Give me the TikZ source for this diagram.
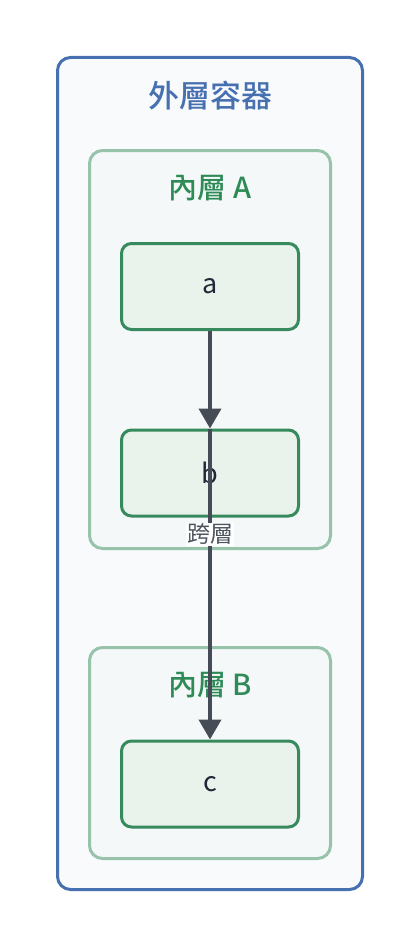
\documentclass[tikz,border=0pt]{standalone}
\usepackage{fontspec}
\setmainfont{Noto Sans CJK TC}[BoldFont={Noto Sans CJK TC Medium}]
\usepackage{tikz}
\usetikzlibrary{positioning,arrows.meta}

\definecolor{outerline}{HTML}{4670B0}
\definecolor{outerfill}{HTML}{F8FAFC}
\definecolor{innerline}{HTML}{96C3AA}
\definecolor{innerfill}{HTML}{F4F8F8}
\definecolor{innertext}{HTML}{2E8B57}
\definecolor{boxline}{HTML}{378A5E}
\definecolor{boxfill}{HTML}{E9F3EC}
\definecolor{boxtext}{HTML}{1F2937}
\definecolor{edgecol}{HTML}{454C56}

\begin{document}
\begin{tikzpicture}[x=1pt, y=-1pt, >={Triangle[length=20pt,width=22pt]},
    outerbox/.style={draw=outerline, fill=outerfill, line width=3pt, rounded corners=13pt,
        minimum width=305pt, minimum height=832pt, inner sep=0pt},
    innerbox/.style={draw=innerline, fill=innerfill, line width=3pt, rounded corners=13pt,
        minimum width=241pt, inner sep=0pt},
    leaf/.style={draw=boxline, fill=boxfill, line width=3pt, rounded corners=10pt,
        minimum width=177pt, minimum height=86pt, inner sep=0pt,
        text=boxtext, font=\fontsize{27}{32}\selectfont},
    outertitle/.style={text=outerline, font=\fontsize{31}{36}\selectfont\bfseries},
    innertitle/.style={text=innertext, font=\fontsize{29}{34}\selectfont\bfseries},
    link/.style={->, draw=edgecol, line width=4pt}]
    \useasboundingbox (0,0) rectangle (420,950);

    % outer container
    \node [outerbox] (outer) at (210,473.5) {};
    \node [outertitle] (outerlabel) at (210,96) {外層容器};

    % inner A
    \node [innerbox, minimum height=398pt] (innerA) at (210,349.5) {};
    \node [innertitle] (innerAlabel) at (210,188) {內層 A};
    \node [leaf] (a) at (210,286.5) {a};
    \node [leaf] (b) at (210,473) {b};

    % inner B
    \node [innerbox, minimum height=211pt] (innerB) at (210,753) {};
    \node [innertitle] (innerBlabel) at (210,685) {內層 B};
    \node [leaf] (c) at (210,784) {c};

    % edges
    \draw [link] (a.south) -- (b.north);
    \draw [link] (b.north) -- (c.north)
        node [pos=0.34, fill=white, inner sep=1pt, text=boxtext!80,
              font=\fontsize{23}{27}\selectfont] (crosslabel) {跨層};
\end{tikzpicture}
\end{document}
